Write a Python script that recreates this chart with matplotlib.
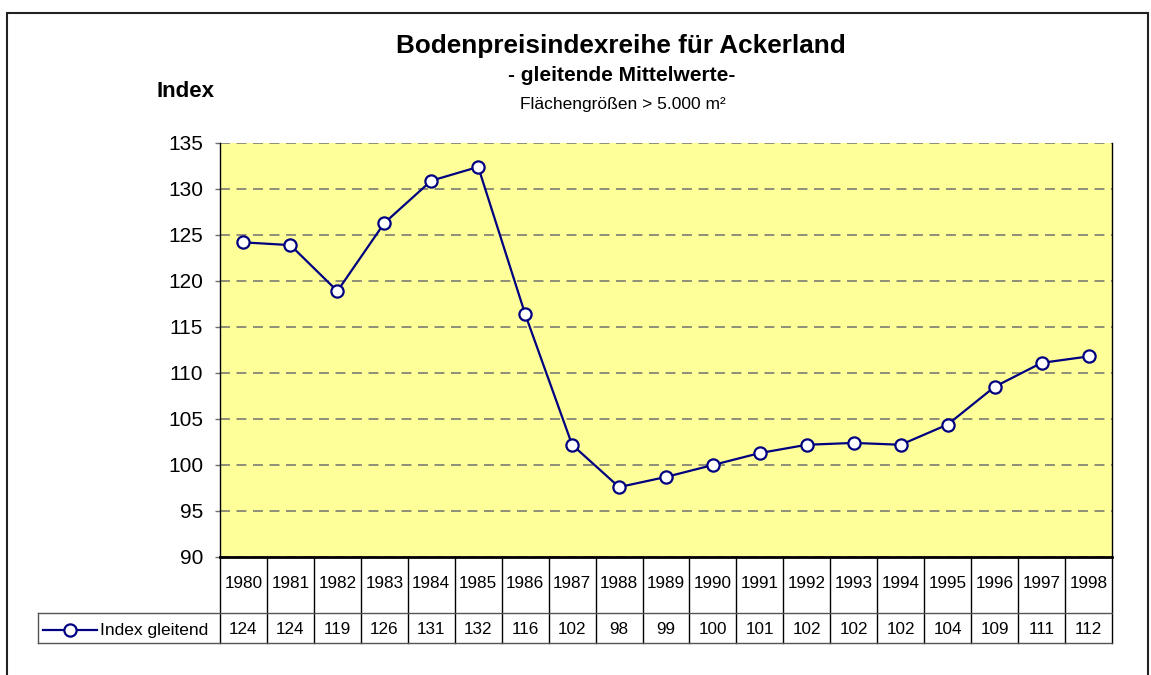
import matplotlib
matplotlib.use('Agg')
import matplotlib.pyplot as plt
from matplotlib.transforms import blended_transform_factory
from matplotlib.lines import Line2D
from matplotlib.patches import Rectangle

# Data
years = [1980, 1981, 1982, 1983, 1984, 1985, 1986, 1987, 1988, 1989,
         1990, 1991, 1992, 1993, 1994, 1995, 1996, 1997, 1998]
index_values = [124.2, 123.9, 118.9, 126.3, 130.9, 132.4, 116.4, 102.2, 97.6, 98.7,
                100.0, 101.3, 102.2, 102.4, 102.2, 104.4, 108.5, 111.1, 111.8]
table_labels = ['124', '124', '119', '126', '131', '132', '116', '102', '98', '99',
                '100', '101', '102', '102', '102', '104', '109', '111', '112']
y_ticks = [90, 95, 100, 105, 110, 115, 120, 125, 130, 135]

series_name = 'Index gleitend'
title = 'Bodenpreisindexreihe für Ackerland'
subtitle = '- gleitende Mittelwerte-'
subsubtitle = 'Flächengrößen > 5.000 m²'

plt.rcParams['font.family'] = ['Liberation Sans', 'DejaVu Sans']

W, H = 1151, 675
NAVY = '#000080'

def fx(px):
    return px / W

def fy(py):
    return 1 - py / H

fig = plt.figure(figsize=(W / 100, H / 100), dpi=100)

# plot area in pixel coords: x 220..1112, y 143..557
ax = fig.add_axes([fx(220), fy(557), (1112 - 220) / W, (557 - 143) / H])
ax.set_facecolor('#FFFF99')

x = list(range(len(years)))
ax.plot(x, index_values, color=NAVY, lw=1.6, marker='o', ms=8.8,
        mfc='white', mec=NAVY, mew=1.6, zorder=3, clip_on=False)

ax.set_xlim(-0.5, len(years) - 0.5)
ax.set_ylim(y_ticks[0], y_ticks[-1])
ax.set_yticks(y_ticks)
ax.set_xticks([])
ax.yaxis.grid(True, color='#707070', lw=1.1, linestyle=(0, (6.5, 4.3)))
ax.set_axisbelow(True)

ax.spines['top'].set_visible(False)
ax.spines['left'].set_linewidth(1.0)
ax.spines['right'].set_linewidth(1.0)
ax.spines['bottom'].set_linewidth(2.0)
ax.tick_params(axis='y', length=3.6, width=1, color='#707070', pad=8.5, labelsize=15)

# data table below the plot
trans = blended_transform_factory(ax.transData, fig.transFigure)
for i in range(len(years) + 1):
    ax.add_line(Line2D([i - 0.5, i - 0.5], [fy(557), fy(643)], transform=trans,
                       color='black', lw=1.0, clip_on=False))
for yy in (613, 643):
    fig.add_artist(Line2D([fx(38), fx(1112)], [fy(yy), fy(yy)],
                          transform=fig.transFigure, color='#555555', lw=1.0))
fig.add_artist(Line2D([fx(38), fx(38)], [fy(613), fy(643)],
                      transform=fig.transFigure, color='#555555', lw=1.0))

for i, (yr, lab) in enumerate(zip(years, table_labels)):
    ax.text(i, fy(584), str(yr), transform=trans, ha='center', va='center',
            fontsize=12.3)
    ax.text(i, fy(629), lab, transform=trans, ha='center', va='center',
            fontsize=12.3)

# legend key inside the table
fig.add_artist(Line2D([fx(43), fx(97)], [fy(630), fy(630)],
                      transform=fig.transFigure, color=NAVY, lw=1.6))
fig.add_artist(Line2D([fx(69.5)], [fy(630)], transform=fig.transFigure,
                      marker='o', ms=8.8, mfc='white', mec=NAVY, mew=1.6, lw=0))
fig.text(fx(100), fy(630), series_name, ha='left', va='center', fontsize=12.5)

# titles
fig.text(fx(621), fy(53), title, ha='center', va='baseline',
         fontsize=18.8, fontweight='bold')
fig.text(fx(622), fy(81), subtitle, ha='center', va='baseline',
         fontsize=15, fontweight='bold')
fig.text(fx(623), fy(109), subsubtitle, ha='center', va='baseline', fontsize=12.5)
fig.text(fx(157), fy(97), 'Index', ha='left', va='baseline',
         fontsize=16, fontweight='bold')

# outer chart border (bottom edge runs off the picture)
fig.add_artist(Rectangle((fx(7.5), fy(700)), fx(1148) - fx(7.5), fy(13) - fy(700),
                         transform=fig.transFigure, fill=False, ec='#222222', lw=1.5))

fig.savefig('out.png', dpi=100)
